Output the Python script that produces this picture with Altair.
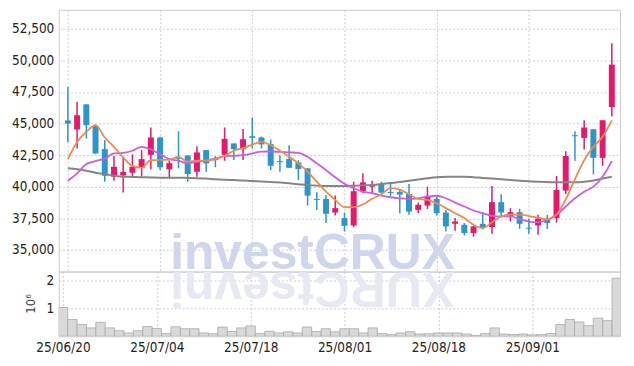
import altair as alt
import pandas as pd

dates = ["25/06/20", "25/06/23", "25/06/24", "25/06/25", "25/06/26", "25/06/27",
         "25/06/30", "25/07/01", "25/07/02", "25/07/03", "25/07/04",
         "25/07/07", "25/07/08", "25/07/09", "25/07/10", "25/07/11",
         "25/07/14", "25/07/15", "25/07/16", "25/07/17", "25/07/18",
         "25/07/21", "25/07/22", "25/07/23", "25/07/24", "25/07/25",
         "25/07/28", "25/07/29", "25/07/30", "25/07/31", "25/08/01",
         "25/08/04", "25/08/05", "25/08/06", "25/08/07", "25/08/08",
         "25/08/11", "25/08/12", "25/08/13", "25/08/14",
         "25/08/18", "25/08/19", "25/08/20", "25/08/21", "25/08/22",
         "25/08/25", "25/08/26", "25/08/27", "25/08/28", "25/08/29",
         "25/09/01", "25/09/02", "25/09/03", "25/09/04", "25/09/05",
         "25/09/08", "25/09/09", "25/09/10", "25/09/11", "25/09/12"]

open_ = [45250, 44530, 46520, 44790, 42980, 40800, 40900, 41110, 41500, 42530,
         43900, 41380, 42370, 42480, 41190, 42900, 42270, 42530, 43430, 42980,
         44000, 43900, 43370, 42030, 42190, 41930, 41460, 39040, 39040, 37960,
         37520, 36940, 39650, 40010, 40220, 39590, 39590, 39430, 38170, 38510,
         39040, 37960, 37070, 36990, 36340, 37070, 36810, 38780, 37600, 37990,
         36760, 36940, 37460, 37520, 39700, 44080, 43870, 44550, 42290, 46310]
high = [47900, 46700, 46520, 44870, 43690, 42430, 42320, 42560, 42900, 44690,
        43950, 42080, 44390, 42480, 43210, 42900, 42430, 44690, 43430, 44580,
        45470, 43970, 43740, 42500, 43290, 42110, 41460, 39570, 39350, 39300,
        37960, 40400, 41060, 40480, 40400, 40220, 39830, 40220, 38750, 40010,
        39220, 38170, 37520, 37130, 36910, 37960, 40060, 39410, 38310, 38250,
        37460, 37780, 37780, 40850, 42820, 44390, 45260, 44550, 45260, 51350]
low = [43550, 43030, 43820, 42600, 40400, 40480, 39540, 40800, 40800, 41380,
       41330, 40670, 41460, 40400, 40800, 41190, 41540, 42060, 42110, 42110,
       43030, 43030, 41320, 41190, 41500, 40540, 38510, 38170, 37130, 37720,
       36460, 36810, 39490, 39490, 39490, 39280, 37910, 37780, 37910, 38250,
       37720, 36460, 36520, 36150, 36050, 36650, 36280, 37650, 37250, 36680,
       36280, 36210, 36650, 37170, 39430, 42060, 42950, 40980, 41660, 45570]
close = [45000, 45650, 44870, 42640, 40870, 41580, 41170, 41580, 42190, 43900,
         41540, 41870, 42210, 41010, 42720, 41850, 42110, 43790, 42980, 43760,
         43870, 43350, 41660, 41950, 41500, 41400, 39300, 38960, 37860, 38310,
         36910, 39650, 40350, 40170, 39540, 39510, 39380, 38040, 38570, 39280,
         37910, 36860, 37250, 36340, 36860, 36730, 38780, 37960, 37990, 37070,
         36680, 37490, 37130, 39750, 42430, 44000, 44690, 42290, 45260, 49670]
volume = [1030000, 600000, 420000, 300000, 500000, 300000, 200000, 120000, 200000, 350000,
          280000, 100000, 340000, 270000, 270000, 120000, 90000, 330000, 170000, 300000,
          370000, 100000, 180000, 120000, 160000, 120000, 330000, 170000, 270000, 160000,
          270000, 270000, 120000, 300000, 100000, 60000, 120000, 160000, 80000, 90000,
          120000, 120000, 120000, 80000, 30000, 100000, 300000, 80000, 60000, 80000,
          50000, 60000, 100000, 420000, 600000, 510000, 380000, 650000, 560000, 2080000]
ma_short = [42180, 43550, 44340, 44870, 43900, 43160, 42320, 41650, 41500, 42110,
            42120, 42150, 42370, 41990, 42060, 42080, 42190, 42450, 42850, 43050,
            43330, 43550, 43290, 42850, 42370, 41850, 41190, 40400, 39610, 38960,
            38380, 38390, 38600, 39050, 39400, 39900, 39780, 39400, 39040, 38960,
            38700, 38310, 37910, 37520, 36990, 36730, 37200, 37650, 37790, 37800,
            37680, 37550, 37420, 37800, 39000, 40600, 42110, 43160, 43950, 45260]
ma_mid = [40480, 41060, 41800, 42030, 42240, 42640, 42690, 42850, 43160, 42950,
          42580, 42190, 42060, 41850, 41980, 42060, 42240, 42430, 42450, 42500,
          42640, 42780, 42790, 42760, 42720, 42690, 42370, 41850, 41320, 40750,
          40240, 39880, 39610, 39490, 39300, 39170, 39090, 39040, 39090, 39220,
          39290, 39090, 38750, 38440, 38120, 37910, 37700, 37650, 37650, 37440,
          37250, 37200, 37390, 37780, 38440, 39090, 39610, 40010, 40800, 42030]
ma_long = [41460, 41380, 41270, 41110, 40980, 40880, 40800, 40780, 40750, 40740,
           40720, 40720, 40720, 40700, 40680, 40650, 40600, 40560, 40530, 40500,
           40450, 40420, 40380, 40330, 40270, 40200, 40130, 40090, 40060, 40060,
           40060, 40080, 40110, 40150, 40220, 40300, 40370, 40480, 40580, 40670,
           40750, 40790, 40800, 40800, 40760, 40700, 40650, 40590, 40530, 40480,
           40440, 40400, 40370, 40350, 40350, 40350, 40400, 40500, 40650, 40800]

price_ticks = [35000, 37500, 40000, 42500, 45000, 47500, 50000, 52500]
volume_ticks = [1000000, 2000000]
date_tick_idx = [0, 10, 20, 30, 40, 50]
watermark = "investCRUX"

UP = "#e5196c"
DOWN = "#2d95c8"
GRID = "#c9cbdc"
FONT = "DejaVu Sans Condensed"
LBL = "#222222"
EXT = 50

df = pd.DataFrame({
    "i": list(range(len(dates))), "date": dates, "open": open_, "high": high,
    "low": low, "close": close, "volume": volume,
    "ma_short": ma_short, "ma_mid": ma_mid, "ma_long": ma_long,
})

xscale = alt.Scale(domain=[-0.45, len(dates) - 0.65], nice=False, zero=False)
pscale = alt.Scale(domain=[33290, 54000], nice=False, zero=False)
vscale = alt.Scale(domain=[0, 2320000], nice=False, zero=False)

label_expr = "[" + ",".join("'%s'" % d for d in dates) + "][datum.value]"

x_grid_axis = alt.Axis(values=date_tick_idx, labels=False, ticks=False, domain=False,
                       grid=True, gridDash=[2, 2], gridColor=GRID, title=None,
                       minExtent=0, maxExtent=0, offset=0)
x_label_axis = alt.Axis(values=date_tick_idx, labelExpr=label_expr, ticks=False, domain=False,
                        grid=True, gridDash=[2, 2], gridColor=GRID, title=None,
                        labelFont=FONT, labelFontSize=13.5, labelColor=LBL,
                        labelPadding=4, labelFlush=False, labelOverlap=False)
p_axis = alt.Axis(values=price_ticks, labelExpr="format(datum.value, ',')", ticks=False,
                  domain=False, grid=True, gridDash=[2, 2], gridColor=GRID, title=None,
                  labelFont=FONT, labelFontSize=13.5, labelColor=LBL, labelPadding=5,
                  labelOverlap=False, labelFlush=False, minExtent=EXT, maxExtent=EXT)
v_axis = alt.Axis(values=volume_ticks, labelExpr="format(datum.value / 1000000, 'd')",
                  ticks=False, domain=False, grid=True, gridDash=[2, 2], gridColor=GRID,
                  labelFont=FONT, labelFontSize=13.5, labelColor=LBL, labelPadding=5,
                  labelOverlap=False, labelFlush=False,
                  title="10⁶", titleFont=FONT, titleFontSize=13, titleFontWeight="normal",
                  titleColor="#444444", titleAngle=-90, titleX=-28, titleY=32,
                  titleAlign="center", titleBaseline="middle", minExtent=EXT, maxExtent=EXT)

X = alt.X("i:Q", scale=xscale, axis=x_grid_axis)
candle_color = alt.condition("datum.close >= datum.open", alt.value(UP), alt.value(DOWN))

base = alt.Chart(df)

wm = alt.Chart(pd.DataFrame({"t": [watermark]})).mark_text(
    font="Liberation Sans", fontWeight="bold", fontSize=50, color="#cfd5ea",
    align="center", baseline="alphabetic", clip=True
).encode(x=alt.value(255), y=alt.value(260), text="t:N")

wick = base.mark_rule(strokeWidth=1.5).encode(
    x=X, y=alt.Y("low:Q", scale=pscale, axis=p_axis), y2="high:Q", color=candle_color)

body = base.mark_bar(size=6).encode(
    x=X, y=alt.Y("open:Q", scale=pscale, axis=p_axis), y2="close:Q", color=candle_color)

def ma_line(field, color, width=1.8):
    return base.mark_line(color=color, strokeWidth=width, interpolate="monotone").encode(
        x=X, y=alt.Y(field + ":Q", scale=pscale, axis=p_axis))

price = alt.layer(
    wm, wick, body,
    ma_line("ma_long", "#858585", 2),
    ma_line("ma_mid", "#cc5be6"),
    ma_line("ma_short", "#ef8a4e"),
).properties(width=564, height=263)

refl = alt.Chart(pd.DataFrame({"t": [watermark[::-1]]})).mark_text(
    font="Liberation Sans", fontWeight="bold", fontSize=50, color="#e7e9f2",
    align="center", baseline="alphabetic", angle=180, clip=True
).encode(x=alt.value(255), y=alt.value(0), text="t:N")

vol = base.transform_calculate(
    x1="datum.i - 0.5", x2="datum.i + 0.5"
).mark_rect(fill="#d9d9d9", stroke="#a9a9a9", strokeWidth=0.8, clip=True).encode(
    x=alt.X("x1:Q", scale=xscale, axis=x_label_axis),
    x2="x2:Q",
    y=alt.Y("volume:Q", scale=vscale, axis=v_axis),
    y2=alt.Y2(datum=0),
)

volume_chart = alt.layer(refl, vol).properties(width=564, height=65)

chart = alt.vconcat(price, volume_chart, spacing=0, bounds="flush").properties(
    padding={"left": 0, "top": 0, "right": 5, "bottom": 2}
).configure_view(stroke="#cccccc")

chart.save("out.html", embed_options={"renderer": "svg", "actions": False})
